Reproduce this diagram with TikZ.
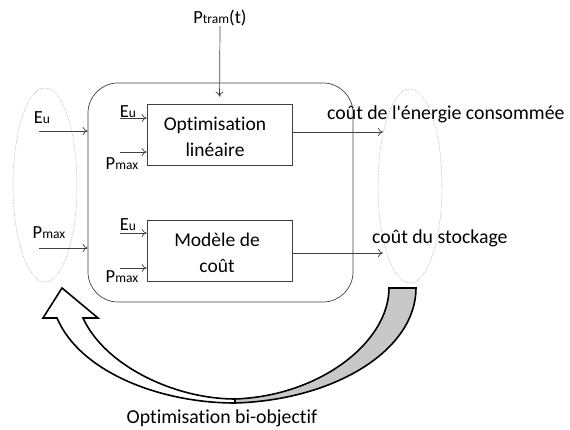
\documentclass[tikz,border=0pt]{standalone}
\usepackage{fontspec}
\setmainfont[Ligatures=NoCommon]{Carlito}
\usetikzlibrary{shapes.geometric,calc,arrows.meta}
\definecolor{ink}{HTML}{404040}
\definecolor{band}{HTML}{C8C8C8}
\newcommand{\smallsub}[1]{{\fontsize{13.5}{13.5}\selectfont #1}}
\tikzset{
  txt/.style={font=\fontsize{18.5}{22}\selectfont, inner sep=0pt},
  bigtxt/.style={font=\fontsize{19.8}{22}\selectfont, inner sep=0pt},
  blockbox/.style={draw=ink, line width=0.7pt, minimum width=145pt, minimum height=61pt,
    align=center, font=\fontsize{19.5}{26}\selectfont},
  arr/.style={draw=ink, line width=0.7pt, -{To[length=5pt,width=8pt]}},
  halo/.style={ellipse, draw=gray!85, line width=0.5pt, densely dotted,
    minimum width=64pt, minimum height=194pt, inner sep=0pt},
  bigarrow/.style={line width=1.6pt, draw=black, line join=miter},
}
\begin{document}
\begin{tikzpicture}[x=1pt, y=-1pt]
\useasboundingbox (0,0) rectangle (570,430);

% outer frame around the two models
\node[draw=ink, line width=0.7pt, rounded corners=30pt, minimum width=265pt,
      minimum height=219pt, inner sep=0pt] (frame) at (220.5,192.5) {};

% the two models
\node[blockbox] (box1) at (219.5,134.5) {};
\node[blockbox] (box2) at (219.5,251) {};
\node[blockbox, draw=none, anchor=center] (t1) at (215,137) {Optimisation\\linéaire};
\node[blockbox, draw=none, anchor=center] (t2) at (217,253) {Modèle de\\coût};

% input and output groups
\node[halo] (ellL) at (45,185) {};
\node[halo] (ellR) at (410,186) {};

% time profile input
\node[txt] (ptram) at (220,18) {P\smallsub{tram}(t)};
\draw[arr, shorten >=7pt] (ptram.south) -- (box1.north);

% global inputs
\node[txt] (lEu) at (42,118) {E\smallsub{u}};
\node[txt] (lPm) at (49,233) {P\smallsub{max}};
\coordinate (sEu) at (39,131);
\coordinate (sPm) at (39,248);
\draw[arr] (sEu) -- (sEu -| frame.west);
\draw[arr] (sPm) -- (sPm -| frame.west);

% local inputs of the first model
\node[txt] (aEu) at (128,112) {E\smallsub{u}};
\node[txt] (aPm) at (122,164) {P\smallsub{max}};
\coordinate (aEuS) at ($(box1.west)+(-27,-16.5)$);
\coordinate (aPmS) at ($(box1.west)+(-27,17.5)$);
\draw[arr] (aEuS) -- (aEuS -| box1.west);
\draw[arr] (aPmS) -- (aPmS -| box1.west);

% local inputs of the second model
\node[txt] (bEu) at (128,225) {E\smallsub{u}};
\node[txt] (bPm) at (122,277) {P\smallsub{max}};
\coordinate (bEuS) at ($(box2.west)+(-27,-18)$);
\coordinate (bPmS) at ($(box2.west)+(-27,17)$);
\draw[arr] (bEuS) -- (bEuS -| box2.west);
\draw[arr] (bPmS) -- (bPmS -| box2.west);

% outputs
\coordinate (o1) at (383,132);
\coordinate (o2) at (383,253);
\draw[arr] (box1.east |- o1) -- (o1);
\draw[arr] (box2.east |- o2) -- (o2);
\node[bigtxt, anchor=west] (c1) at (327,114) {coût de l\textquotesingle énergie consommée};
\node[bigtxt, anchor=west] (c2) at (372,238) {coût du stockage};

% bi-objective loop: shaded back part
\draw[bigarrow, fill=band]
  (235,403) .. controls (335,400) and (416,350) .. (416,288)
  -- (389,288) .. controls (389,342) and (320,396) .. (235,399) -- cycle;
% bi-objective loop: white front part with head
\draw[bigarrow, fill=white]
  (235,403) .. controls (160,403) and (80,372) .. (57,318)
  -- (43,318) -- (62,288) -- (98,318) -- (83,318)
  .. controls (105,366) and (175,399) .. (235,399) -- cycle;

\node[bigtxt] (loop) at (222,418) {Optimisation bi-objectif};
\end{tikzpicture}
\end{document}
